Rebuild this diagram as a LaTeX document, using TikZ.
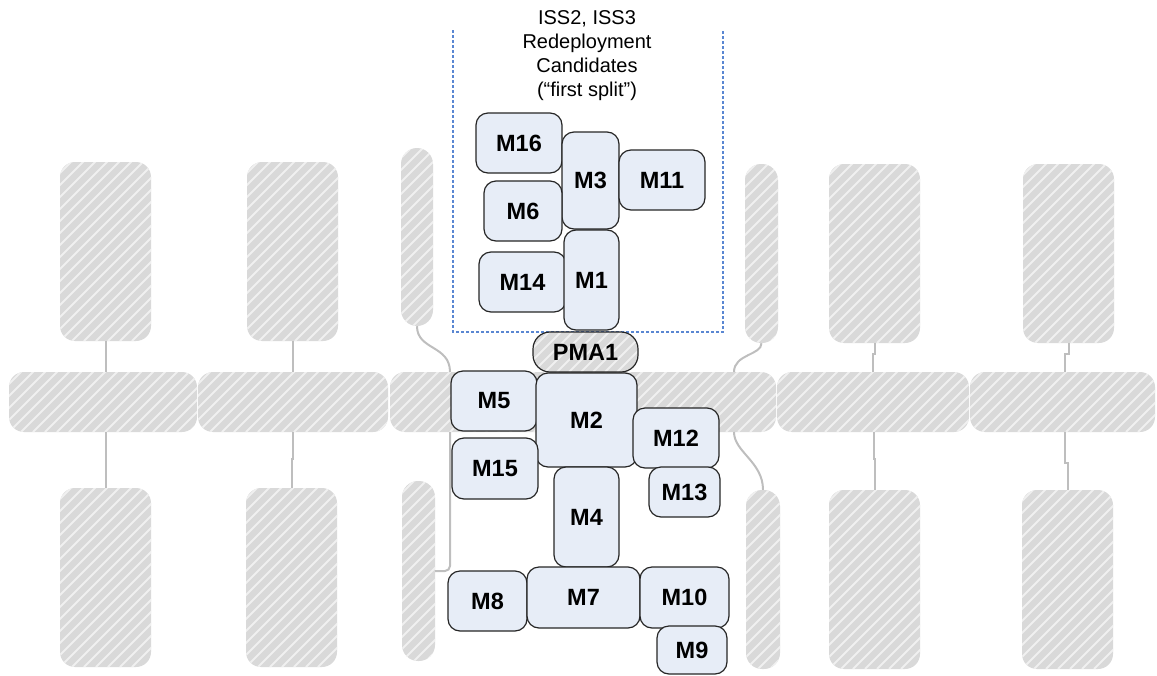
\documentclass[tikz,border=0pt]{standalone}
\usepackage{fontspec}
\setmainfont{Liberation Sans}
\usetikzlibrary{calc}
\definecolor{hatchgray}{RGB}{217,217,217}
\definecolor{hatchline}{RGB}{240,240,240}
\definecolor{modfill}{RGB}{231,237,247}
\definecolor{connc}{RGB}{190,190,190}
\definecolor{boxblue}{RGB}{90,135,210}
\tikzset{
  sz/.style n args={2}{minimum width=#1pt, minimum height=#2pt},
  hatched/.style={fill=hatchgray, draw=none, inner sep=0pt, rounded corners=15pt,
    path picture={\foreach \k in {-17,...,34}{\draw[hatchline, line width=2pt] ([xshift=\k*12pt]path picture bounding box.south west) -- ++(300pt,300pt);}}},
  thin/.style={hatched, rounded corners=16pt},
  module/.style={draw=black!85, line width=1.2pt, fill=modfill, rounded corners=12pt, inner sep=0pt,
    font=\bfseries\fontsize{23.5}{27}\selectfont},
  pma/.style={hatched, draw=black!85, line width=1.2pt, rounded corners=17pt,
    font=\bfseries\fontsize{23.5}{27}\selectfont},
  conn/.style={draw=connc, line width=2pt},
  candbox/.style={draw=boxblue, line width=1.1pt, dash pattern=on 3pt off 2pt}
}
\begin{document}
\begin{tikzpicture}[x=1pt,y=-1pt]
\useasboundingbox (0,0) rectangle (1157,675);

% dashed candidate box (open top)
\draw[candbox] (453,30) -- (453,332) -- (723,332) -- (723,30);

% free ends of the curved radiator connectors
\coordinate (jl1) at (450,372);
\coordinate (jl2) at (450,432);
\coordinate (jr1) at (734,372);
\coordinate (jr2) at (734,432);

% panels
\node[hatched, sz={91}{179}] (P1) at (105.5,251.5) {};
\node[hatched, sz={91}{179}] (P2) at (292.5,251.5) {};
\node[hatched, sz={91}{179}] (P3) at (874.5,253.5) {};
\node[hatched, sz={91}{179}] (P4) at (1068.5,253.5) {};
\node[hatched, sz={91}{179}] (B1) at (105.5,577.5) {};
\node[hatched, sz={91}{179}] (B2) at (291.5,577.5) {};
\node[hatched, sz={91}{179}] (B3) at (874.5,579.5) {};
\node[hatched, sz={91}{179}] (B4) at (1067.5,579.5) {};
% radiators
\node[thin, sz={32}{178}] (R1) at (417,237) {};
\node[thin, sz={33}{179}] (R2) at (761.5,253.5) {};
\node[thin, sz={33}{180}] (R3) at (418.5,571) {};
\node[thin, sz={34}{179}] (R4) at (763,579.5) {};

% truss
\node[hatched, sz={188}{60}] (T1) at (103,402) {};
\node[hatched, sz={190}{60}] (T2) at (293,402) {};
\node[hatched, sz={386}{60}] (T3) at (583,402) {};
\node[hatched, sz={192}{60}] (T4) at (873,402) {};
\node[hatched, sz={185}{60}] (T5) at (1062.5,402) {};

% connectors
\draw[conn] (P1.south) -- (P1.south |- T1.north);
\draw[conn] (P2.south) -- (P2.south |- T2.north);
\draw[conn] (B1.north) -- (B1.north |- T1.south);
\draw[conn] (B2.north) -- ++(0,-29) -- ++(1,0) -- ([xshift=1pt]B2.north |- T2.south);
\draw[conn] (P3.south) -- ++(0,11) -- ++(-1.5,0) -- ([xshift=-1.5pt]P3.south |- T4.north);
\draw[conn] (P4.south) -- ++(0,11) -- ++(-4,0) -- ([xshift=-4pt]P4.south |- T5.north);
\draw[conn] (B3.north) -- ++(0,-31) -- ++(-1,0) -- ([xshift=-1pt]B3.north |- T4.south);
\draw[conn] (B4.north) -- ++(0,-27) -- ++(-3,0) -- ([xshift=-3pt]B4.north |- T5.south);
\draw[conn] (R1.south) .. controls +(0,24) and +(0,-27) .. (jl1);
\draw[conn, rounded corners=5pt] (jl2) |- (R3.east);
\draw[conn] (R2.south) .. controls +(0,12) and +(0,-18) .. (jr1);
\draw[conn] (jr2) .. controls +(0,20) and +(0,-28) .. (R4.north);

% modules
\node[pma, sz={105}{40}] (pma1) at (585.5,352) {PMA1};
\node[module, sz={86}{60}] (m16) at (519,143) {M16};
\node[module, sz={57}{97}] (m3) at (590.5,180.5) {M3};
\node[module, sz={86}{60}] (m11) at (662,180) {M11};
\node[module, sz={78}{60}] (m6) at (523,211) {M6};
\node[module, sz={87}{60}] (m14) at (522.5,282) {M14};
\node[module, sz={55}{100}] (m1) at (591.5,280) {M1};
\node[module, sz={86}{60}] (m5) at (494,401) {M5};
\node[module, sz={101}{94}] (m2) at (586.5,420) {M2};
\node[module, sz={86}{60}] (m12) at (676,438) {M12};
\node[module, sz={86}{61}] (m15) at (495,468.5) {M15};
\node[module, sz={71}{50}] (m13) at (684.5,492) {M13};
\node[module, sz={65}{100}] (m4) at (586.5,517) {M4};
\node[module, sz={79}{60}] (m8) at (487.5,601) {M8};
\node[module, sz={113}{61}] (m7) at (583.5,597.5) {M7};
\node[module, sz={89}{61}] (m10) at (684.5,597.5) {M10};
\node[module, sz={70}{48}] (m9) at (692,650) {M9};

% title
\node[align=center, font=\fontsize{20}{24}\selectfont, inner sep=0pt, anchor=north] (title) at (587,10)
  {ISS2, ISS3\\Redeployment\\Candidates\\(“first split”)};
\end{tikzpicture}
\end{document}
